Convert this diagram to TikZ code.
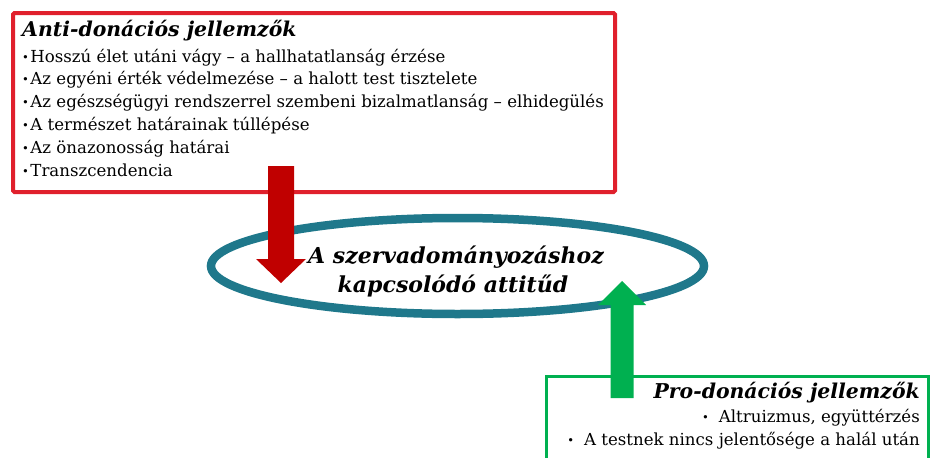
\documentclass[tikz,border=0pt]{standalone}
\usepackage{fontspec}
\setmainfont{DejaVu Serif}
\usetikzlibrary{calc,shapes.geometric}

\definecolor{boxred}{RGB}{224,32,44}
\definecolor{arrowred}{RGB}{192,0,0}
\definecolor{ringteal}{RGB}{31,120,139}
\definecolor{boxgreen}{RGB}{0,176,80}
\definecolor{arrowgreen}{RGB}{0,176,80}

\newcommand{\smallbul}{{\fontsize{11.5pt}{11.5pt}\selectfont\raisebox{1pt}{•}}}

\begin{document}
\begin{tikzpicture}[x=1pt,y=-1pt,
  frame/.style={line width=#1},
  headline/.style={font=\fontsize{20.4pt}{20.4pt}\selectfont\bfseries\itshape, inner sep=0pt},
  itemline/.style={font=\fontsize{16.6pt}{16.6pt}\selectfont, inner sep=0pt},
  ringtext/.style={font=\fontsize{22pt}{26pt}\selectfont\bfseries\itshape, inner sep=0pt, align=center},
  blockarrow/.style={draw=none}
]
\useasboundingbox (0,0) rectangle (930,458);

% factor boxes
\node[draw=boxred, frame=4pt, rounded corners=1.5pt, minimum width=602pt, minimum height=179pt,
      anchor=north west, inner sep=0pt] (anti) at (11,11) {};
\node[draw=boxgreen, frame=3pt, minimum width=382pt, minimum height=100pt,
      anchor=north west, inner sep=0pt] (pro) at (544.5,374.5) {};

% central attitude ring
\node[ellipse, draw=ringteal, line width=8.5pt, minimum width=493pt, minimum height=96pt,
      inner sep=0pt] (ring) at (457.5,266) {};
\node[ringtext, anchor=base] (ringA) at (456,263) {A szervadományozáshoz};
\node[ringtext, anchor=base] (ringB) at (453,292) {kapcsolódó attitűd};

% anti-donation list
\node[headline, anchor=base west] (antititle) at (22,36) {Anti-donációs jellemzők};
\foreach \txt [count=\i] in {
  Hosszú élet utáni vágy – a hallhatatlanság érzése,
  Az egyéni érték védelmezése – a halott test tisztelete,
  Az egészségügyi rendszerrel szembeni bizalmatlanság – elhidegülés,
  A természet határainak túllépése,
  Az önazonosság határai,
  Transzcendencia}
  \node[itemline, anchor=base west] (antiitem\i) at (22,{62+22.9*(\i-1)}) {\smallbul\hspace{1.5pt}\txt};

% pro-donation list
\node[headline, anchor=base east] (protitle) at (920,398) {Pro-donációs jellemzők};
\node[itemline, anchor=base east] (proitem1) at (920,422) {\smallbul\hspace{10pt}Altruizmus, együttérzés};
\node[itemline, anchor=base east] (proitem2) at (920,445) {\smallbul\hspace{10pt}A testnek nincs jelentősége a halál után};

% influence arrows
\coordinate (redtail) at (281,166);
\coordinate (redtip) at (281,283);
\coordinate (greentail) at (622,398);
\coordinate (greentip) at (622,281);

\fill[arrowred, blockarrow]
  ($(redtail)+(-13,0)$) -- ($(redtail)+(13,0)$) -- ($(redtip)+(13,-24)$) -- ($(redtip)+(25,-24)$)
  -- (redtip) -- ($(redtip)+(-25,-24)$) -- ($(redtip)+(-13,-24)$) -- cycle;
\fill[arrowgreen, blockarrow]
  ($(greentail)+(-11.5,0)$) -- ($(greentail)+(11.5,0)$) -- ($(greentip)+(11.5,24)$) -- ($(greentip)+(24,24)$)
  -- (greentip) -- ($(greentip)+(-24,24)$) -- ($(greentip)+(-11.5,24)$) -- cycle;
\end{tikzpicture}
\end{document}
